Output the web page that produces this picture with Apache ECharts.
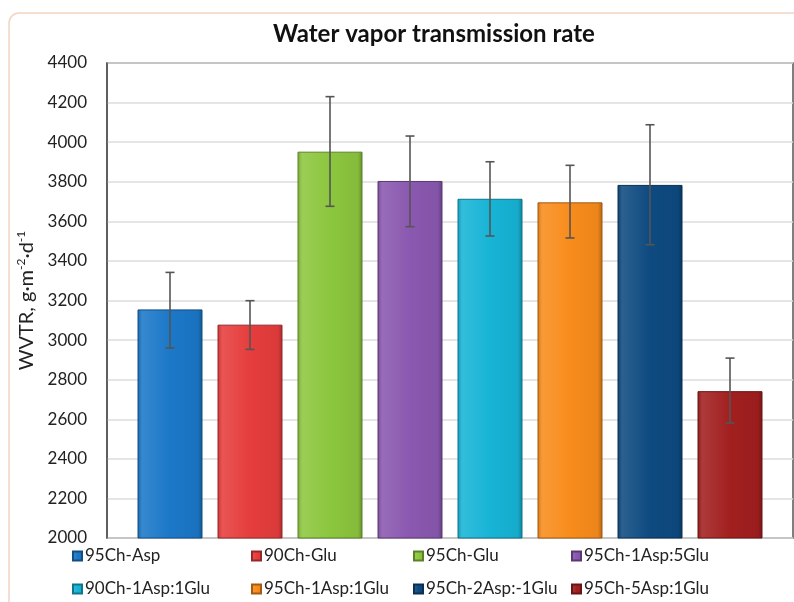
<!DOCTYPE html>
<html>
<head>
<meta charset="utf-8">
<script src="https://cdn.jsdelivr.net/npm/echarts@6/dist/echarts.min.js"></script>
<style>
html,body{margin:0;padding:0;background:#fff;}
#chart{width:794px;height:602px;}
</style>
</head>
<body>
<div id="chart"></div>
<script>
// ---- data ----
const seriesNames = ['95Ch-Asp','90Ch-Glu','95Ch-Glu','95Ch-1Asp:5Glu','90Ch-1Asp:1Glu','95Ch-1Asp:1Glu','95Ch-2Asp:-1Glu','95Ch-5Asp:1Glu'];
const wvtrValues = [3155, 3078, 3952, 3804, 3714, 3696, 3784, 2742];
const errLow =     [2960, 2953, 3676, 3573, 3526, 3516, 3482, 2581];
const errHigh =    [3342, 3199, 4230, 4031, 3901, 3883, 4088, 2909];
const yTicks = [2000, 2200, 2400, 2600, 2800, 3000, 3200, 3400, 3600, 3800, 4000, 4200, 4400];

const baseColors = ['#1b78c8','#e63d3d','#8cc63e','#8a58b0','#17b4d6','#f88c1c','#0e4a80','#a21f1f'];

function shade(hex, f){
  const n = parseInt(hex.slice(1),16);
  let r=(n>>16)&255,g=(n>>8)&255,b=n&255;
  if(f>0){r+= (255-r)*f; g+=(255-g)*f; b+=(255-b)*f;}
  else {r*=1+f; g*=1+f; b*=1+f;}
  return 'rgb('+Math.round(r)+','+Math.round(g)+','+Math.round(b)+')';
}
function grad(c){
  return new echarts.graphic.LinearGradient(0,0,1,0,[
    {offset:0,color:shade(c,-0.15)},
    {offset:0.07,color:shade(c,0.12)},
    {offset:0.5,color:c},
    {offset:0.93,color:shade(c,-0.05)},
    {offset:1,color:shade(c,-0.3)}
  ]);
}

const FONT = 'Lato';
const chart = echarts.init(document.getElementById('chart'), null, {renderer:'canvas'});

const series = seriesNames.map((name,i)=>({
  name: name,
  type: 'bar',
  barWidth: 65,
  barGap: '-100%',
  data: [[i, wvtrValues[i]]],
  itemStyle: {color: grad(baseColors[i]), borderColor: shade(baseColors[i],-0.35), borderWidth: 1},
  emphasis: {disabled: true},
  z: 2
}));

series.push({
  type: 'custom',
  name: 'err',
  z: 5,
  data: seriesNames.map((n,i)=>[i, errLow[i], errHigh[i]]),
  renderItem: function(params, api){
    const x = api.value(0);
    const lo = api.coord([x, api.value(1)]);
    const hi = api.coord([x, api.value(2)]);
    const cw = 4.5;
    const st = {stroke:'#555', lineWidth:1.6};
    return {type:'group', children:[
      {type:'line', shape:{x1:lo[0],y1:lo[1],x2:hi[0],y2:hi[1]}, style:st},
      {type:'line', shape:{x1:lo[0]-cw,y1:lo[1],x2:lo[0]+cw,y2:lo[1]}, style:st},
      {type:'line', shape:{x1:hi[0]-cw,y1:hi[1],x2:hi[0]+cw,y2:hi[1]}, style:st}
    ]};
  }
});

const legCols = [[0,4],[1,5],[2,6],[3,7]];
const legLefts = [72, 251, 413, 571];
const legends = legCols.map((idx,k)=>({
  left: legLefts[k],
  top: 546,
  padding: 0,
  orient: 'vertical',
  itemWidth: 9,
  itemHeight: 9,
  itemGap: 13,
  icon: 'rect',
  selectedMode: false,
  data: idx.map(i=>seriesNames[i]),
  textStyle: {fontFamily: FONT, fontSize: 17, color: '#222', lineHeight: 20, padding:[0,0,0,-2]}
}));

chart.setOption({
  animation: false,
  backgroundColor: '#fff',
  textStyle: {fontFamily: FONT},
  title: {
    text: 'Water vapor transmission rate',
    left: 268,
    top: 17,
    textStyle: {fontFamily: FONT, fontWeight: 'bold', fontSize: 24, color: '#111'}
  },
  graphic: [{
    type: 'rect',
    shape: {x: 9, y: 13, width: 820, height: 620, r: 10},
    style: {fill: 'none', stroke: '#f2d3c4', lineWidth: 1.5},
    silent: true, z: -1
  }],
  legend: legends,
  grid: {left: 107, right: 1, top: 63, bottom: 64, show: true, borderColor: '#555', borderWidth: 1.5, backgroundColor: 'transparent'},
  xAxis: {
    type: 'value',
    min: -0.7875,
    max: 7.7875,
    show: false
  },
  yAxis: {
    type: 'value',
    min: yTicks[0],
    max: yTicks[yTicks.length-1],
    interval: yTicks[1]-yTicks[0],
    axisLine: {show: true, onZero: false, lineStyle: {color: '#555', width: 1.5}},
    axisTick: {show: false},
    splitLine: {lineStyle: {color: '#dcdcdc', width: 1.5}},
    axisLabel: {fontFamily: FONT, fontSize: 17, color: '#222', margin: 20, formatter: v => String(v)},
    name: '{a|WVTR, g·m}{s|-2}{a|·d}{s|-1}',
    nameLocation: 'middle',
    nameRotate: 90,
    nameGap: 64,
    nameTextStyle: {
      rich: {
        a: {fontFamily: FONT, fontSize: 20, color: '#222', lineHeight: 24},
        s: {fontFamily: FONT, fontSize: 12, color: '#222', verticalAlign: 'top', lineHeight: 24}
      }
    }
  },
  series: series
});
</script>
</body>
</html>
